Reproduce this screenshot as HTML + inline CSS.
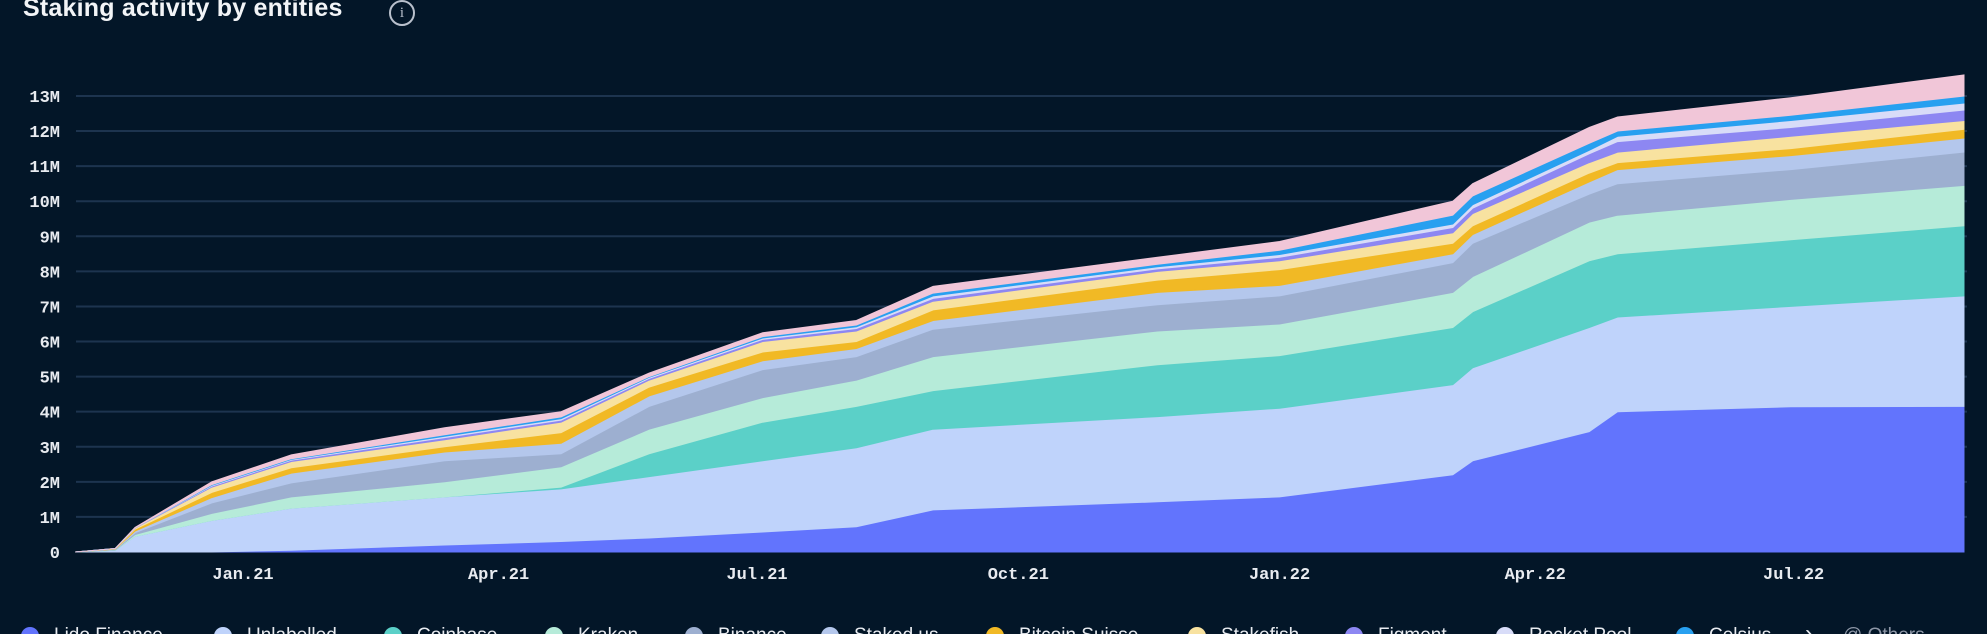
<!DOCTYPE html>
<html><head><meta charset="utf-8">
<style>
html,body{margin:0;padding:0;background:#031628;}
body{width:1987px;height:634px;overflow:hidden;position:relative;font-family:"Liberation Sans",sans-serif;}
#title{position:absolute;left:23px;top:-6px;color:#f2f4f7;font-size:25px;font-weight:bold;letter-spacing:0.2px;white-space:nowrap;}
#info{position:absolute;left:389px;top:0px;width:22px;height:22px;border:2px solid #b9c0cc;border-radius:50%;color:#b9c0cc;font-size:15px;text-align:center;line-height:22px;font-family:"Liberation Serif",serif;}
svg{position:absolute;left:0;top:0;}
</style></head>
<body>
<div id="title">Staking activity by entities</div>
<div id="info">i</div>
<svg id="chart" width="1987" height="634"></svg>
<script>
const dates = ["2020-11-03","2020-11-17","2020-11-24","2020-12-21","2021-01-18","2021-03-13","2021-04-23","2021-05-24","2021-07-03","2021-08-05","2021-09-01","2021-11-19","2022-01-01","2022-03-03","2022-03-10","2022-04-20","2022-04-30","2022-06-30","2022-08-30"];
const seriesNames = ["Lido Finance","Unlabelled","Coinbase","Kraken","Binance","Staked.us","Bitcoin Suisse","Stakefish","Figment","Rocket Pool","Celsius","Others"];
const lido = [0,0,0,0,0.05,0.2,0.3,0.4,0.57,0.72,1.2,1.43,1.57,2.2,2.6,3.43,4.0,4.14,4.15];
const unlabelled = [0,0.05,0.45,0.9,1.2,1.37,1.5,1.75,2.03,2.25,2.3,2.43,2.53,2.57,2.65,2.97,2.7,2.86,3.15];
const coinbase = [0,0,0,0,0,0,0.05,0.65,1.1,1.18,1.1,1.48,1.5,1.63,1.6,1.9,1.8,1.9,2.0];
const kraken = [0,0.01,0.05,0.2,0.32,0.43,0.58,0.7,0.7,0.75,0.97,0.96,0.9,1.0,1.0,1.1,1.1,1.15,1.15];
const binance = [0,0.01,0.05,0.3,0.4,0.6,0.37,0.65,0.8,0.67,0.78,0.75,0.8,0.85,0.95,0.8,0.9,0.85,0.95];
const stakedus = [0,0.01,0.05,0.15,0.28,0.25,0.3,0.3,0.25,0.23,0.25,0.35,0.3,0.25,0.25,0.35,0.4,0.4,0.4];
const bitcoinSuisse = [0,0.01,0.05,0.15,0.15,0.15,0.3,0.25,0.25,0.2,0.3,0.35,0.45,0.3,0.25,0.25,0.2,0.2,0.25];
const stakefish = [0,0.01,0.03,0.15,0.18,0.2,0.3,0.2,0.3,0.3,0.25,0.25,0.25,0.3,0.35,0.3,0.3,0.35,0.25];
const figment = [0,0,0.01,0.03,0.04,0.06,0.06,0.05,0.06,0.07,0.08,0.07,0.1,0.15,0.15,0.25,0.3,0.25,0.3];
const rocketPool = [0,0,0,0.02,0.02,0.04,0.04,0.03,0.04,0.05,0.07,0.06,0.08,0.1,0.1,0.1,0.15,0.2,0.2];
const celsius = [0,0,0,0.02,0.02,0.04,0.05,0.02,0.04,0.05,0.08,0.07,0.12,0.25,0.25,0.2,0.15,0.15,0.2];
const others = [0,0,0.01,0.08,0.11,0.2,0.15,0.1,0.11,0.13,0.19,0.2,0.25,0.4,0.35,0.45,0.4,0.5,0.6];
const yTicks = [0,1,2,3,4,5,6,7,8,9,10,11,12,13];
const xTickDates = ["2021-01-01","2021-04-01","2021-07-01","2021-10-01","2022-01-01","2022-04-01","2022-07-01"];
const xTickLabels = ["Jan.21","Apr.21","Jul.21","Oct.21","Jan.22","Apr.22","Jul.22"];

const allSeries = [lido,unlabelled,coinbase,kraken,binance,stakedus,bitcoinSuisse,stakefish,figment,rocketPool,celsius,others];
const colors = ["#6274fd","#bfd3fb","#5bd0c8","#b6ebd9","#9dafd0","#b4c7ec","#f1b925","#f8e2a0","#8d87f2","#d8dcf8","#28a0f0","#f1c6d8"];

const svg = document.getElementById('chart');
const NS = "http://www.w3.org/2000/svg";
const X0 = 76, X1 = 1967, Y0 = 552, PXM = 35.08;
const t0 = Date.parse("2021-01-01"), pxPerDay = 2.84, xJan = 243;
function xScale(d){ return xJan + (Date.parse(d) - t0) / 86400000 * pxPerDay; }
function yScale(v){ return Y0 - v * PXM; }

// grid + y labels
yTicks.forEach(v => {
  const y = yScale(v);
  if (v > 0) {
    const ln = document.createElementNS(NS,'line');
    
    
    ln.setAttribute('x1',X0); ln.setAttribute('x2',X1);
    ln.setAttribute('y1',y); ln.setAttribute('y2',y);
    ln.setAttribute('stroke','#1d344f'); ln.setAttribute('stroke-width','2');
    svg.appendChild(ln);
  }
  const t = document.createElementNS(NS,'text');
  
  
  t.setAttribute('x',60); t.setAttribute('y',y+6);
  t.setAttribute('text-anchor','end');
  t.setAttribute('fill','#e8ebf0');
  t.setAttribute('font-family','"Liberation Mono", monospace');
  t.setAttribute('font-weight','bold');
  t.setAttribute('font-size','17');
  t.textContent = v === 0 ? "0" : v + "M";
  svg.appendChild(t);
});

// stacked areas
const cum = dates.map(() => 0);
allSeries.forEach((s, si) => {
  const lower = cum.slice();
  s.forEach((v,i) => { cum[i] += v; });
  let d = "";
  dates.forEach((dt,i) => { d += (i ? "L" : "M") + xScale(dt).toFixed(1) + "," + yScale(cum[i]).toFixed(1); });
  for (let i = dates.length - 1; i >= 0; i--) d += "L" + xScale(dates[i]).toFixed(1) + "," + yScale(lower[i]).toFixed(1);
  d += "Z";
  const p = document.createElementNS(NS,'path');
  
  
  p.setAttribute('d', d);
  p.setAttribute('fill', colors[si]);
  p.setAttribute('stroke', colors[si]);
  p.setAttribute('stroke-width', '1');
  svg.appendChild(p);
});

// x labels
xTickDates.forEach((dt,i) => {
  const t = document.createElementNS(NS,'text');
  
  
  t.setAttribute('x', xScale(dt)); t.setAttribute('y', 579);
  t.setAttribute('text-anchor','middle');
  t.setAttribute('fill','#e8ebf0');
  t.setAttribute('font-family','"Liberation Mono", monospace');
  t.setAttribute('font-weight','bold');
  t.setAttribute('font-size','17');
  t.textContent = xTickLabels[i];
  svg.appendChild(t);
});

// legend
const legendX = [30,223,393,554,694,830,995,1197,1354,1505,1685];
seriesNames.slice(0,11).forEach((n,i) => {
  const g = document.createElementNS(NS,'g');
  
  
  const c = document.createElementNS(NS,'circle');
  c.setAttribute('cx', legendX[i]); c.setAttribute('cy', 636); c.setAttribute('r', 9);
  c.setAttribute('fill', colors[i]);
  g.appendChild(c);
  const t = document.createElementNS(NS,'text');
  t.setAttribute('x', legendX[i] + 24); t.setAttribute('y', 641);
  t.setAttribute('fill','#e8ebf0');
  t.setAttribute('font-family','"Liberation Sans", sans-serif');
  t.setAttribute('font-size','19');
  t.textContent = n;
  g.appendChild(t);
  svg.appendChild(g);
});
const arr = document.createElementNS(NS,'text');


arr.setAttribute('x',1805); arr.setAttribute('y',641);
arr.setAttribute('fill','#e8ebf0'); arr.setAttribute('font-size','24');
arr.textContent = "›";
svg.appendChild(arr);
const oth = document.createElementNS(NS,'text');


oth.setAttribute('x',1843); oth.setAttribute('y',641);
oth.setAttribute('fill','#8d96a6'); oth.setAttribute('font-size','19');
oth.setAttribute('font-family','"Liberation Sans", sans-serif');
oth.textContent = "@ Others";
svg.appendChild(oth);
</script>
</body></html>
